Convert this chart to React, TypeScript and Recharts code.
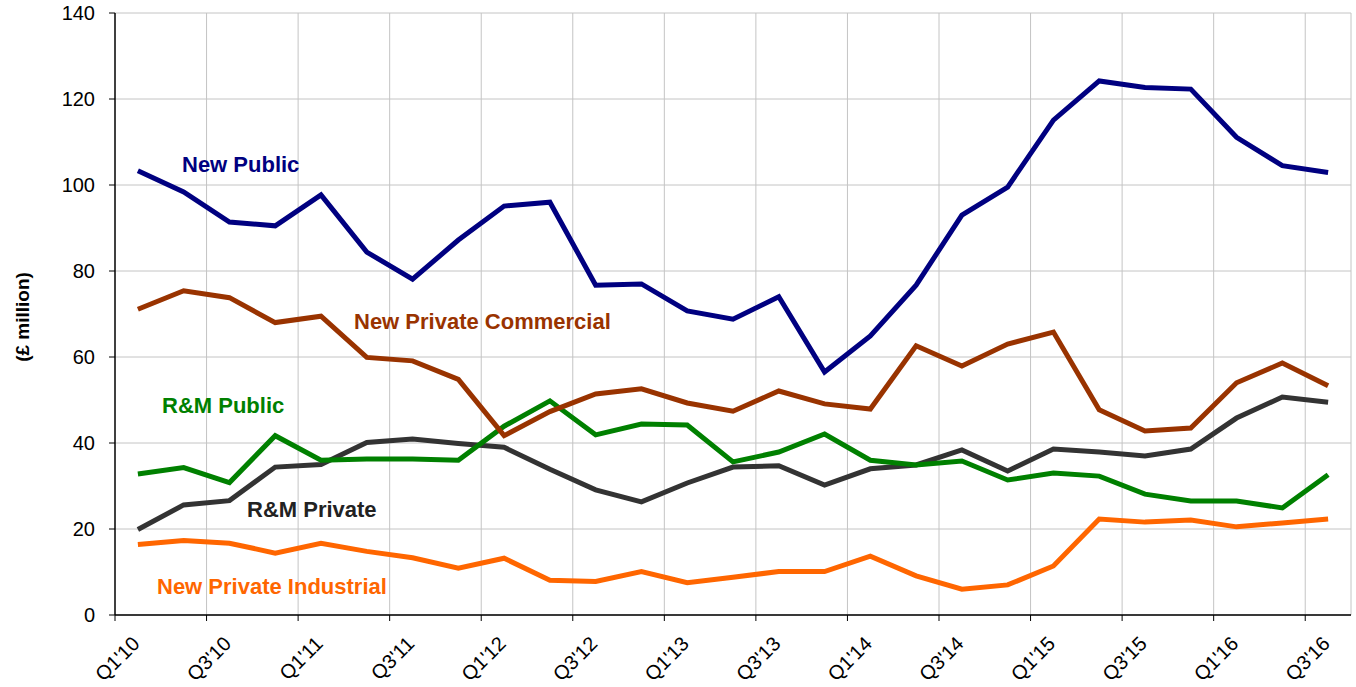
import { CartesianGrid, Line, LineChart, XAxis, YAxis } from "recharts";

const quarters = [
  "Q1'10", "Q2'10", "Q3'10", "Q4'10",
  "Q1'11", "Q2'11", "Q3'11", "Q4'11",
  "Q1'12", "Q2'12", "Q3'12", "Q4'12",
  "Q1'13", "Q2'13", "Q3'13", "Q4'13",
  "Q1'14", "Q2'14", "Q3'14", "Q4'14",
  "Q1'15", "Q2'15", "Q3'15", "Q4'15",
  "Q1'16", "Q2'16", "Q3'16",
];

const newPublic = [
  103.3, 98.4, 91.4, 90.5, 97.7, 84.4, 78.1, 87.2, 95.1, 96.0, 76.7, 77.0, 70.7, 68.8,
  74.0, 56.5, 64.9, 76.7, 93.0, 99.5, 115.1, 124.2, 122.7, 122.3, 111.1, 104.5, 102.9,
];
const newPrivateCommercial = [
  71.1, 75.4, 73.8, 68.0, 69.5, 59.9, 59.1, 54.8, 41.7, 47.3, 51.4, 52.6, 49.3, 47.4,
  52.1, 49.1, 47.9, 62.6, 57.9, 63.0, 65.8, 47.7, 42.8, 43.5, 54.0, 58.6, 53.3,
];
const rmPublic = [
  32.8, 34.3, 30.8, 41.7, 36.0, 36.3, 36.3, 36.0, 43.9, 49.8, 41.9, 44.4, 44.2, 35.6,
  37.9, 42.1, 36.0, 34.9, 35.8, 31.4, 33.0, 32.3, 28.1, 26.5, 26.5, 24.9, 32.6,
];
const rmPrivate = [
  19.9, 25.6, 26.6, 34.4, 35.0, 40.1, 40.9, 39.9, 39.0, 33.9, 29.1, 26.3, 30.7, 34.4,
  34.7, 30.2, 34.0, 34.9, 38.4, 33.5, 38.6, 37.9, 37.0, 38.6, 45.8, 50.7, 49.5,
];
const newPrivateIndustrial = [
  16.4, 17.3, 16.7, 14.4, 16.7, 14.8, 13.3, 10.9, 13.2, 8.1, 7.8, 10.1, 7.5, 8.8,
  10.1, 10.1, 13.7, 9.1, 6.0, 7.0, 11.4, 22.3, 21.6, 22.1, 20.5, 21.4, 22.3,
];

const yTicks = [0, 20, 40, 60, 80, 100, 120, 140];

const data = quarters.map((q, i) => ({
  q,
  newPublic: newPublic[i],
  newPrivateCommercial: newPrivateCommercial[i],
  rmPublic: rmPublic[i],
  rmPrivate: rmPrivate[i],
  newPrivateIndustrial: newPrivateIndustrial[i],
}));

const W = 1356;
const H = 687;
const PLOT_LEFT = 115;
const PLOT_RIGHT = 1351;
const BAND = (PLOT_RIGHT - PLOT_LEFT) / quarters.length;
const FONT = "Arial, 'Liberation Sans', sans-serif";

function QuarterTick(props: any) {
  const { x, y, payload } = props;
  const bx = x - BAND / 2;
  return (
    <g>
      <line x1={bx} y1={y - 8} x2={bx} y2={y - 2} stroke="#000" strokeWidth={1} />
      <text
        x={0}
        y={0}
        transform={`translate(${x + 3},${y + 22}) rotate(-45)`}
        textAnchor="end"
        fontSize={20}
        fontFamily={FONT}
        fill="#000"
      >
        {payload.value}
      </text>
    </g>
  );
}

const labels = [
  { text: "New Public", x: 182, y: 172, color: "#000080" },
  { text: "New Private Commercial", x: 354, y: 329, color: "#993300" },
  { text: "R&M Public", x: 162, y: 413, color: "#008000" },
  { text: "R&M Private", x: 247, y: 517, color: "#222222" },
  { text: "New Private Industrial", x: 157, y: 594, color: "#FF6600" },
];

export default function App() {
  return (
    <div style={{ position: "absolute", left: 0, top: 0, width: W, height: H, background: "#fff" }}>
      <LineChart width={W} height={H} data={data} margin={{ top: 13, right: W - PLOT_RIGHT, bottom: 0, left: 0 }}>
        <CartesianGrid
          stroke="#c4c4c4"
          strokeWidth={1}
          verticalCoordinatesGenerator={({ offset }: any) => {
            const step = offset.width / quarters.length;
            const xs: number[] = [];
            for (let i = 2; i <= quarters.length - 1; i += 2) xs.push(offset.left + i * step);
            xs.push(offset.left + offset.width);
            return xs;
          }}
        />
        <XAxis
          dataKey="q"
          interval={1}
          height={72}
          padding={{ left: BAND / 2, right: BAND / 2 }}
          tickLine={false}
          axisLine={{ stroke: "#000", strokeWidth: 1.5 }}
          tick={<QuarterTick />}
        />
        <YAxis
          width={PLOT_LEFT}
          domain={[0, 140]}
          ticks={yTicks}
          tickSize={6}
          tickMargin={14}
          axisLine={{ stroke: "#000", strokeWidth: 1.5 }}
          tickLine={{ stroke: "#000" }}
          tick={{ fill: "#000", fontSize: 20, fontFamily: FONT }}
        />
        <Line dataKey="newPrivateIndustrial" stroke="#FF6600" strokeWidth={5} dot={false} isAnimationActive={false} />
        <Line dataKey="rmPrivate" stroke="#333333" strokeWidth={5} dot={false} isAnimationActive={false} />
        <Line dataKey="rmPublic" stroke="#008000" strokeWidth={5} dot={false} isAnimationActive={false} />
        <Line dataKey="newPrivateCommercial" stroke="#993300" strokeWidth={5} dot={false} isAnimationActive={false} />
        <Line dataKey="newPublic" stroke="#000080" strokeWidth={5} dot={false} isAnimationActive={false} />
      </LineChart>
      <svg width={W} height={H} style={{ position: "absolute", left: 0, top: 0, pointerEvents: "none" }}>
        <text
          transform="translate(29,317) rotate(-90)"
          textAnchor="middle"
          fontSize={19}
          fontWeight="bold"
          fontFamily={FONT}
          fill="#000"
        >
          (£ million)
        </text>
        {labels.map((l) => (
          <text key={l.text} x={l.x} y={l.y} fontSize={22} fontWeight="bold" fontFamily={FONT} fill={l.color}>
            {l.text}
          </text>
        ))}
      </svg>
    </div>
  );
}
